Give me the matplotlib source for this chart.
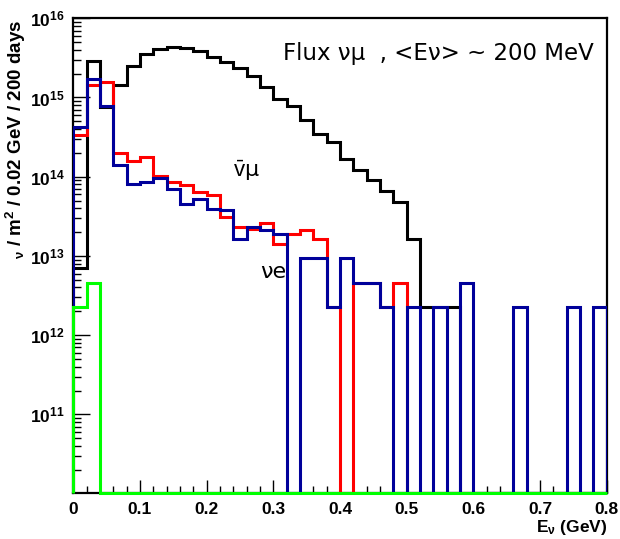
import matplotlib.pyplot as plt
import numpy as np

# === DATA (0.02 GeV bins from 0 to 0.8) ===
bin_width = 0.02
n_bins = 40

flux_numu = [7.0e12, 2.9e15, 7.6e14, 1.44e15, 2.48e15, 3.5e15, 4.1e15, 4.3e15,
             4.2e15, 3.9e15, 3.27e15, 2.83e15, 2.38e15, 1.85e15, 1.34e15, 9.7e14,
             7.8e14, 5.2e14, 3.5e14, 2.77e14, 1.66e14, 1.22e14, 9.1e13, 6.6e13,
             4.8e13, 1.63e13, 2.3e12, 2.3e12, 2.3e12, 0, 0, 0,
             0, 0, 0, 0, 0, 0, 0, 0]
flux_numubar = [3.4e14, 1.44e15, 1.56e15, 1.97e14, 1.56e14, 1.77e14, 1.01e14, 8.6e13,
                7.9e13, 6.35e13, 5.9e13, 3.07e13, 2.3e13, 2.17e13, 2.62e13, 1.4e13,
                1.87e13, 2.12e13, 1.63e13, 2.3e12, 0, 4.6e12, 4.6e12, 2.3e12,
                4.6e12, 0, 0, 0, 0, 0, 0, 0,
                0, 0, 0, 0, 0, 0, 0, 0]
flux_nue = [4.2e14, 1.7e15, 7.9e14, 1.39e14, 8.0e13, 8.6e13, 9.5e13, 7.1e13,
            4.5e13, 5.2e13, 3.95e13, 3.8e13, 1.62e13, 2.29e13, 2.12e13, 1.87e13,
            0, 9.3e12, 9.3e12, 2.3e12, 9.3e12, 4.6e12, 4.6e12, 2.3e12,
            0, 2.3e12, 0, 2.3e12, 0, 4.6e12, 0, 0,
            0, 2.3e12, 0, 0, 0, 2.3e12, 0, 2.3e12]
flux_nuebar = [2.3e12, 4.6e12] + [0] * 38

xticks = [0, 0.1, 0.2, 0.3, 0.4, 0.5, 0.6, 0.7, 0.8]
xtick_labels = ['0', '0.1', '0.2', '0.3', '0.4', '0.5', '0.6', '0.7', '0.8']
yticks = [1e11, 1e12, 1e13, 1e14, 1e15, 1e16]
ytick_labels = [r'$10^{11}$', r'$10^{12}$', r'$10^{13}$', r'$10^{14}$', r'$10^{15}$', r'$10^{16}$']

ymin, ymax = 1.01e10, 1e16

# === STYLE ===
plt.rcParams['font.family'] = ['Liberation Sans', 'DejaVu Sans']
plt.rcParams['mathtext.fontset'] = 'custom'
plt.rcParams['mathtext.rm'] = 'Liberation Sans'
plt.rcParams['mathtext.bf'] = 'Liberation Sans:bold'
plt.rcParams['mathtext.it'] = 'Liberation Sans:italic'
plt.rcParams['mathtext.default'] = 'bf'

fig = plt.figure(figsize=(6.2, 5.39), dpi=100)
ax = fig.add_axes([0.1182, 0.0848, 0.8603, 0.8813])

edges = np.arange(n_bins + 1) * bin_width


def draw(vals, color, **kw):
    v = np.array(vals, dtype=float)
    v = np.where(v > 0, v, ymin)
    ax.stairs(v, edges, baseline=ymin, color=color, lw=2.2, zorder=3, **kw)


draw(flux_numu, 'black')
draw(flux_numubar, '#ff0000')
draw(flux_nue, '#00009a')
draw(flux_nuebar, '#00ff00', clip_on=False)

ax.set_yscale('log')
ax.set_xlim(0, 0.8)
ax.set_ylim(ymin, ymax)
ax.set_xticks(xticks)
ax.set_xticklabels(xtick_labels, fontweight='bold', fontsize=12.5)
ax.set_xticks(np.arange(0, 0.81, 0.02), minor=True)
ax.set_yticks(yticks)
ax.set_yticklabels(ytick_labels, fontsize=12.5)
ax.yaxis.set_minor_locator(plt.matplotlib.ticker.LogLocator(subs=np.arange(2, 10)))
ax.yaxis.set_minor_formatter(plt.matplotlib.ticker.NullFormatter())

ax.tick_params(axis='x', which='major', direction='in', length=9.5, width=1, pad=6)
ax.tick_params(axis='x', which='minor', direction='in', length=5, width=1)
ax.tick_params(axis='y', which='major', direction='in', length=12, width=1, pad=6)
ax.tick_params(axis='y', which='minor', direction='in', length=6, width=1)
ax.tick_params(top=False, right=False, which='both')
for s in ax.spines.values():
    s.set_linewidth(1.6)

# texts
fig.text(0.026, 0.963, r'${}_{\nu}$ / m$^{2}$ / 0.02 GeV / 200 days', rotation=90,
         ha='center', va='top', fontsize=13.5, fontweight='bold')
fig.text(0.979, 0.022, r'E$_{\nu}$ (GeV)', ha='right', va='center',
         fontsize=12.5, fontweight='bold')
ax.text(0.975, 0.925, 'Flux νμ  , <Eν> ~ 200 MeV', transform=ax.transAxes,
        ha='right', va='center', fontsize=16.5, family='DejaVu Sans')
ax.text(0.259, 1.2e14, r'$\mathrm{\bar{v}}$μ', ha='center', va='center',
        fontsize=16, family='DejaVu Sans')
ax.text(0.30, 6.3e12, 'νe', ha='center', va='center',
        fontsize=16, family='DejaVu Sans')
plt.savefig('out.png', dpi=100)
